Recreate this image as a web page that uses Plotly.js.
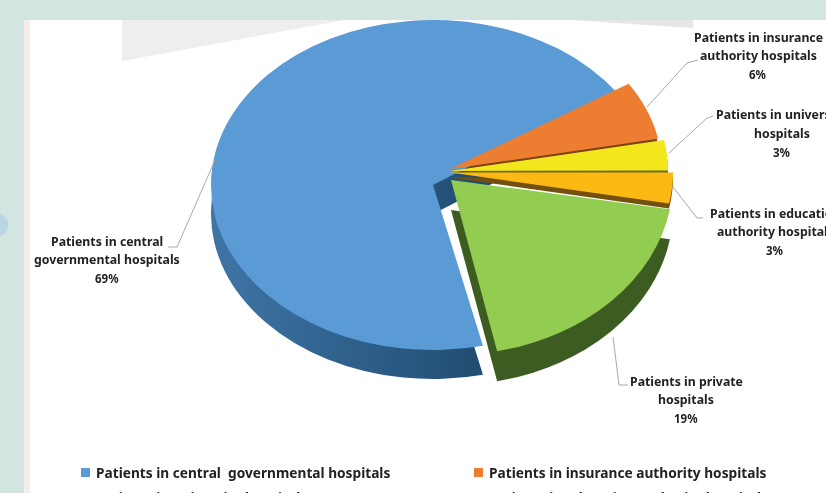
<!DOCTYPE html>
<html>
<head>
<meta charset="utf-8">
<script src="https://cdn.plot.ly/plotly-3.0.1.min.js"></script>
<style>html,body{margin:0;padding:0;background:#d3e5e1;overflow:hidden}#chart{width:826px;height:493px;filter:blur(0.5px)}</style>
</head>
<body>
<div id="chart"></div>
<script>
var categories = ["Patients in central governmental hospitals","Patients in insurance authority hospitals","Patients in university hospitals","Patients in education authority hospitals","Patients in private hospitals"];
var shares = [69,6,3,3,19];
var faceColors = ["#5b9bd5","#ed7d31","#f2e71c","#fdb913","#92cc50"];
var sideColors = ["#2c5c88","#7c4218","#6f6a12","#74500f","#3d5c22"];
var labelLines = [
  ["Patients in central","governmental hospitals"],
  ["Patients in insurance","authority hospitals"],
  ["Patients in university","hospitals"],
  ["Patients in education","authority hospitals"],
  ["Patients in private","hospitals"]
];
var labelCenters = [107,758,782,775,686];
var labelTops = [241,37,115,213,381];
var labelStep = 18.7;
var leaders = [
  [[215,160],[177,247],[168,247]],
  [[647,107],[687,63],[698,60]],
  [[669,153],[707,118],[713,116]],
  [[673,187],[697,218],[703,218]],
  [[613,337],[619,385],[628,385]]
];
var legendNames = ["Patients in central  governmental hospitals","Patients in insurance authority hospitals","Patients in university hospitals","Patients in education authority hospitals"];
var legendX = [81,474,81,474];
var legendY = [472,472,497,497];
var legendColors = ["#5b9bd5","#ed7d31","#f2e71c","#fdb913"];

var W=826,H=493;
function px(x){return x/W;}
function py(y){return 1-y/H;}
var clear="rgba(0,0,0,0)";
function only(list,i0){return list.map(function(c,i){return i===i0?c:clear;});}

// each group: slice index, centre, radii, rotation, offset of the side wall
var groups = [
  {idx:0, cx:433, cy:185, rx:222, ry:165, rot:167, side:29},
  {idx:1, cx:450, cy:169, rx:212, ry:158, rot:169, side:5},
  {idx:2, cx:450, cy:171, rx:218, ry:162, rot:169, side:3},
  {idx:3, cx:450, cy:172.5, rx:223, ry:166, rot:169.2, side:5},
  {idx:4, cx:451, cy:180, rx:222, ry:175, rot:168, side:30}
];
var traces=[], placement=[];
function addTrace(g,colors,dy){
  var half=g.rx;
  var d0=0.01, d1=d0+2*half/H;
  traces.push({type:"pie",labels:categories,values:shares,sort:false,direction:"clockwise",
    rotation:g.rot,textinfo:"none",hoverinfo:"skip",showlegend:false,
    marker:{colors:only(colors,g.idx),line:{width:0}},
    domain:{x:[px(g.cx-half),px(g.cx+half)],y:[d0,d1]}});
  placement.push({y0:H*(1-(d0+d1)/2),cy:g.cy+dy,k:g.ry/g.rx});
}
groups.forEach(function(g){addTrace(g,sideColors,g.side);});
groups.forEach(function(g){addTrace(g,faceColors,0);});

function poly(points){return points.map(function(p,i){return (i?"L":"M")+px(p[0])+","+py(p[1]);}).join(" ");}
function rect(x0,y0,x1,y1,c){return {type:"rect",xref:"paper",yref:"paper",x0:px(x0),x1:px(x1),y0:py(y0),y1:py(y1),fillcolor:c,line:{width:0},layer:"below"};}
var shapes=[
  rect(24,20,826,493,"#ffffff"),
  rect(24,20,30,493,"#f6ece8"),
  {type:"circle",xref:"paper",yref:"paper",x0:px(-16),x1:px(8),y0:py(213),y1:py(237),fillcolor:"#b9d7e2",line:{width:0},layer:"below"},
  {type:"path",xref:"paper",yref:"paper",path:poly([[122,20],[122,61],[345,20]])+" Z",fillcolor:"#eeeeee",line:{width:0},layer:"below"},
  {type:"path",xref:"paper",yref:"paper",path:poly([[570,20],[693,28],[693,20]])+" Z",fillcolor:"#e6e6e6",line:{width:0},layer:"below"}
];
leaders.forEach(function(l){
  shapes.push({type:"path",xref:"paper",yref:"paper",path:poly(l),line:{color:"#a9a9a9",width:1},layer:"above"});
});
legendNames.forEach(function(n,i){
  shapes.push(rect(legendX[i],legendY[i]-4,legendX[i]+9,legendY[i]+5,legendColors[i]));
});

var annotations=[];
function note(text,x,y,size,anchor){
  annotations.push({text:text,xref:"paper",yref:"paper",x:px(x),y:py(y),xanchor:anchor,yanchor:"middle",showarrow:false,
    font:{family:"'Noto Sans',sans-serif",size:size,color:"#222222"},borderpad:0});
}
labelLines.forEach(function(lines,i){
  lines.concat([shares[i]+"%"]).forEach(function(t,j){
    note("<b>"+t+"</b>",labelCenters[i],labelTops[i]+j*labelStep,j===2?11.5:12.3,"center");
  });
});
legendNames.forEach(function(n,i){
  note("<b>"+n.replace("  ","&nbsp; ")+"</b>",legendX[i]+14,legendY[i],13.7,"left");
});

Plotly.newPlot("chart",traces,{width:W,height:H,margin:{l:0,r:0,t:0,b:0},
  paper_bgcolor:"#d3e5e1",plot_bgcolor:"rgba(0,0,0,0)",showlegend:false,
  shapes:shapes,annotations:annotations},{staticPlot:true,displayModeBar:false}).then(function(gd){
  var els=gd.querySelectorAll(".pielayer .trace");
  els.forEach(function(el,i){
    var p=placement[i];
    el.setAttribute("transform","translate(0,"+p.cy+") scale(1,"+p.k+") translate(0,"+(-p.y0)+")");
  });
  // side wall of the large slice darkens from left to right
  var svg=gd.querySelector("svg.main-svg");
  var ns="http://www.w3.org/2000/svg";
  var grad=document.createElementNS(ns,"linearGradient");
  grad.setAttribute("id","blueSide");
  [["0","#3f75a6"],["0.5","#285780"],["1","#163750"]].forEach(function(s){
    var st=document.createElementNS(ns,"stop");
    st.setAttribute("offset",s[0]);st.setAttribute("stop-color",s[1]);grad.appendChild(st);
  });
  var defs=svg.querySelector("defs")||svg.insertBefore(document.createElementNS(ns,"defs"),svg.firstChild);
  defs.appendChild(grad);
  var blue=els[0].querySelector(".slice path.surface");
  if(blue){blue.style.fill="url(#blueSide)";}
});
</script>
</body>
</html>
